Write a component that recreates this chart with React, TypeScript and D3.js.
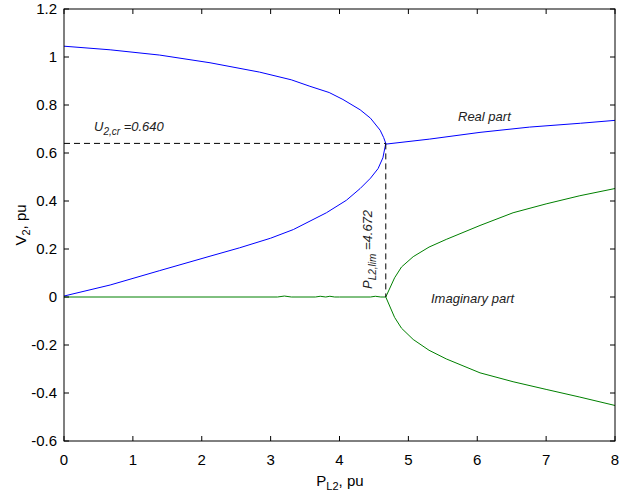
import React from "react";
import { scaleLinear, line, curveLinear } from "d3";

// upper voltage branch (stable)
const upperP = [0, 0.67, 1.39, 2.12, 2.84, 3.3, 3.57, 3.85, 4.05, 4.3, 4.45, 4.59, 4.64, 4.672];
const upperV = [1.045, 1.03, 1.008, 0.976, 0.937, 0.905, 0.878, 0.852, 0.823, 0.78, 0.745, 0.695, 0.665, 0.64];
// lower voltage branch (unstable)
const lowerP = [0, 0.67, 1.39, 2.12, 2.55, 3.0, 3.33, 3.81, 4.1, 4.3, 4.45, 4.56, 4.63, 4.672];
const lowerV = [0.004, 0.05, 0.11, 0.17, 0.205, 0.245, 0.281, 0.351, 0.403, 0.452, 0.495, 0.535, 0.58, 0.64];
// real part beyond the limit
const realP = [4.672, 5.31, 6.04, 6.76, 7.5, 8];
const realV = [0.637, 0.658, 0.686, 0.708, 0.724, 0.736];
// imaginary part
const imagZeroP = [0, 3.1, 3.2, 3.3, 3.65, 3.72, 3.8, 3.86, 3.93, 4.0, 4.45, 4.52, 4.6, 4.672];
const imagZeroV = [0, 0, 0.004, 0, 0, 0.003, 0, 0.003, 0, 0, 0, 0.003, 0, 0];
const imagP = [4.672, 4.8, 4.9, 5.07, 5.3, 5.55, 6.04, 6.52, 7.0, 7.49, 8];
const imagUpV = [0, 0.08, 0.125, 0.168, 0.208, 0.24, 0.298, 0.351, 0.388, 0.422, 0.452];
const imagLowV = [0, -0.085, -0.13, -0.177, -0.222, -0.258, -0.316, -0.353, -0.385, -0.417, -0.452];

const xTicks = [0, 1, 2, 3, 4, 5, 6, 7, 8];
const yTicks = [-0.6, -0.4, -0.2, 0, 0.2, 0.4, 0.6, 0.8, 1, 1.2];

const critV = 0.64;
const limP = 4.672;

const left = 64, right = 615, top = 9, bottom = 441;
const font = "'Liberation Sans', Arial, sans-serif";

export default function App() {
  const x = scaleLinear().domain([0, 8]).range([left, right]);
  const y = scaleLinear().domain([-0.6, 1.2]).range([bottom, top]);

  const mk = (ps: number[], vs: number[]) =>
    line<number>()
      .x((d, i) => x(ps[i]))
      .y((d) => y(d))
      .curve(curveLinear)(vs) || "";

  const fmt = (v: number) => String(Math.round(v * 10) / 10);

  return (
    <svg
      width={620}
      height={493}
      style={{ position: "absolute", left: 0, top: 0, background: "#fff" }}
      fontFamily={font}
    >
      <rect x={0} y={0} width={620} height={493} fill="#fff" />

      {/* curves */}
      <path d={mk(upperP, upperV)} fill="none" stroke="#0000ff" strokeWidth={1} />
      <path d={mk(lowerP, lowerV)} fill="none" stroke="#0000ff" strokeWidth={1} />
      <path d={mk(realP, realV)} fill="none" stroke="#0000ff" strokeWidth={1} />
      <path d={mk(imagZeroP, imagZeroV)} fill="none" stroke="#008000" strokeWidth={1} />
      <path d={mk(imagP, imagUpV)} fill="none" stroke="#008000" strokeWidth={1} />
      <path d={mk(imagP, imagLowV)} fill="none" stroke="#008000" strokeWidth={1} />

      {/* critical dashed lines */}
      <line x1={x(0)} x2={x(limP)} y1={y(critV)} y2={y(critV)} stroke="#000" strokeDasharray="6,4" />
      <line x1={x(limP)} x2={x(limP)} y1={y(critV)} y2={y(0)} stroke="#000" strokeDasharray="6,4" />

      {/* frame */}
      <rect x={left} y={top} width={right - left} height={bottom - top} fill="none" stroke="#000" strokeWidth={1} />

      {xTicks.map((t) => (
        <g key={"x" + t}>
          <line x1={x(t)} x2={x(t)} y1={bottom} y2={bottom - 5} stroke="#000" />
          <line x1={x(t)} x2={x(t)} y1={top} y2={top + 5} stroke="#000" />
          <text x={x(t)} y={bottom + 24} fontSize={15} textAnchor="middle">{t}</text>
        </g>
      ))}
      {yTicks.map((t) => (
        <g key={"y" + t}>
          <line x1={left} x2={left + 5} y1={y(t)} y2={y(t)} stroke="#000" />
          <line x1={right} x2={right - 5} y1={y(t)} y2={y(t)} stroke="#000" />
          <text x={left - 7} y={y(t) + 5} fontSize={15} textAnchor="end">{fmt(t)}</text>
        </g>
      ))}

      {/* axis labels */}
      <text x={340} y={486} fontSize={15} textAnchor="middle">
        P<tspan dy={4} fontSize={11}>L2</tspan><tspan dy={-4}>, pu</tspan>
      </text>
      <text transform="translate(26,225) rotate(-90)" fontSize={15} textAnchor="middle">
        V<tspan dy={4} fontSize={11}>2</tspan><tspan dy={-4}>, pu</tspan>
      </text>

      {/* annotations */}
      <text x={94} y={131} fontSize={13} fontStyle="italic" fill="#222">
        U<tspan dy={4} fontSize={10}>2,cr</tspan><tspan dy={-4}> =0.640</tspan>
      </text>
      <text transform={`translate(372,${y(0) - 8}) rotate(-90)`} fontSize={13} fontStyle="italic" fill="#222">
        P<tspan dy={4} fontSize={10}>L2,lim</tspan><tspan dy={-4}> =4.672</tspan>
      </text>
      <text x={458} y={121} fontSize={13} fontStyle="italic" fill="#222">Real part</text>
      <text x={431} y={303} fontSize={13} fontStyle="italic" fill="#222">Imaginary part</text>
    </svg>
  );
}
